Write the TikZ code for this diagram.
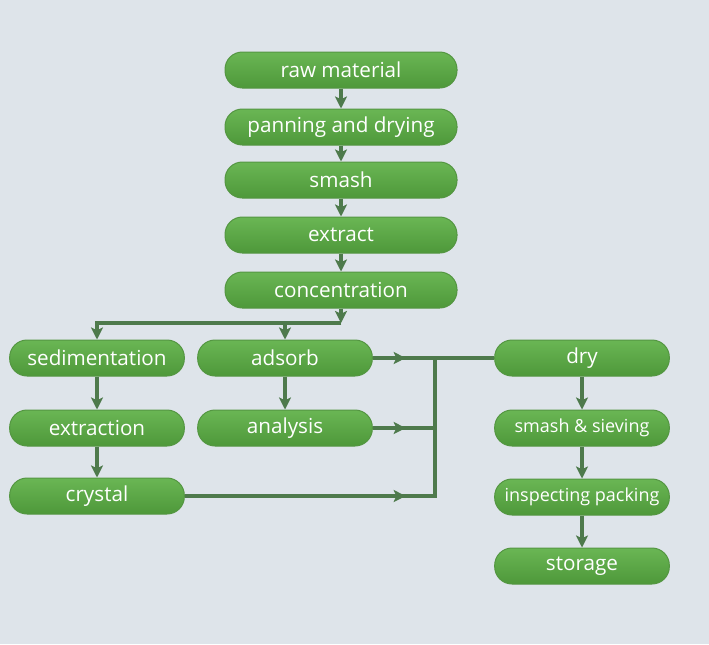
\documentclass[tikz,border=0pt]{standalone}
\usepackage{fontspec}
\setmainfont{Open Sans}
\usetikzlibrary{arrows.meta,decorations.markings}

\definecolor{bgcol}{RGB}{222,228,234}
\definecolor{boxtop}{RGB}{106,182,84}
\definecolor{boxbot}{RGB}{78,152,58}
\definecolor{boxedge}{RGB}{84,150,66}
\definecolor{linecol}{RGB}{78,122,76}

\tikzset{every picture/.style={line width=0.75pt}}
\tikzset{
  procbox/.style={draw=boxedge, top color=boxtop, bottom color=boxbot, rounded corners=13pt,
    minimum height=27pt, inner sep=0pt, text=white, font=\fontsize{15.5}{18}\selectfont},
  smalltext/.style={font=\fontsize{13.5}{16}\selectfont},
  wide/.style={minimum width=174pt},
  narrow/.style={minimum width=131pt},
  link/.style={draw=linecol, line width=2.3pt, -{Stealth[length=9pt,width=9pt,inset=2pt]}},
  busline/.style={draw=linecol, line width=2.3pt},
  busarrow/.style={busline, postaction={decorate}, decoration={markings,
    mark=at position -22pt with {\arrow[linecol]{Stealth[length=9pt,width=9pt,inset=2pt]}}}}
}

\begin{document}
\begin{tikzpicture}[x=0.75pt,y=0.75pt,yscale=-1,xscale=1]
        %set diagram size 709 x 644
        \fill[bgcol] (0,0) rectangle (709,644);

        %Shape: Rounded Rectangle - main column
        \node (raw) at (341,70) [procbox,wide] {raw material};
        \node (pan) at (341,127) [procbox,wide] {panning and drying};
        \node (sma) at (341,180) [procbox,wide] {smash};
        \node (ext) at (341,235) [procbox,wide] {extract};
        \node (con) at (341,290) [procbox,wide] {concentration};

        %Shape: Rounded Rectangle - left column
        \node (sed) at (97,358) [procbox,narrow] {sedimentation};
        \node (exn) at (97,428) [procbox,narrow] {extraction};
        \node (cry) at (97,496) [procbox,narrow] {crystal};

        %Shape: Rounded Rectangle - middle column
        \node (ads) at (285,358) [procbox,narrow] {adsorb};
        \node (ana) at (285,428) [procbox,narrow] {analysis};

        %Shape: Rounded Rectangle - right column
        \node (dry) at (582,358) [procbox,narrow] {dry};
        \node (sie) at (582,428) [procbox,narrow,smalltext] {smash \& sieving};
        \node (ins) at (582,497) [procbox,narrow,smalltext] {inspecting packing};
        \node (sto) at (582,566) [procbox,narrow] {storage};

        %Coordinates for split and bus
        \coordinate (split) at (341,323);
        \coordinate (busA) at (435,358);
        \coordinate (busB) at (435,428);
        \coordinate (busC) at (435,496);

        %Straight Lines - main column
        \draw [link] (raw) -- (pan);
        \draw [link] (pan) -- (sma);
        \draw [link] (sma) -- (ext);
        \draw [link] (ext) -- (con);
        \draw [link] (con) -- (split);
        \draw [link] (split) -| (sed);
        \draw [link] (split) -| (ads);

        %Straight Lines - left and middle columns
        \draw [link] (sed) -- (exn);
        \draw [link] (exn) -- (cry);
        \draw [link] (ads) -- (ana);

        %Straight Lines - bus
        \draw [busarrow] (ads.east) -- (busA);
        \draw [busarrow] (ana.east) -- (busB);
        \draw [busarrow] (cry.east) -- (busC);
        \draw [busline, line cap=rect] (busA) -- (busC);
        \draw [busline] (busA) -- (dry.west);

        %Straight Lines - right column
        \draw [link] (dry) -- (sie);
        \draw [link] (sie) -- (ins);
        \draw [link] (ins) -- (sto);
\end{tikzpicture}
\end{document}
